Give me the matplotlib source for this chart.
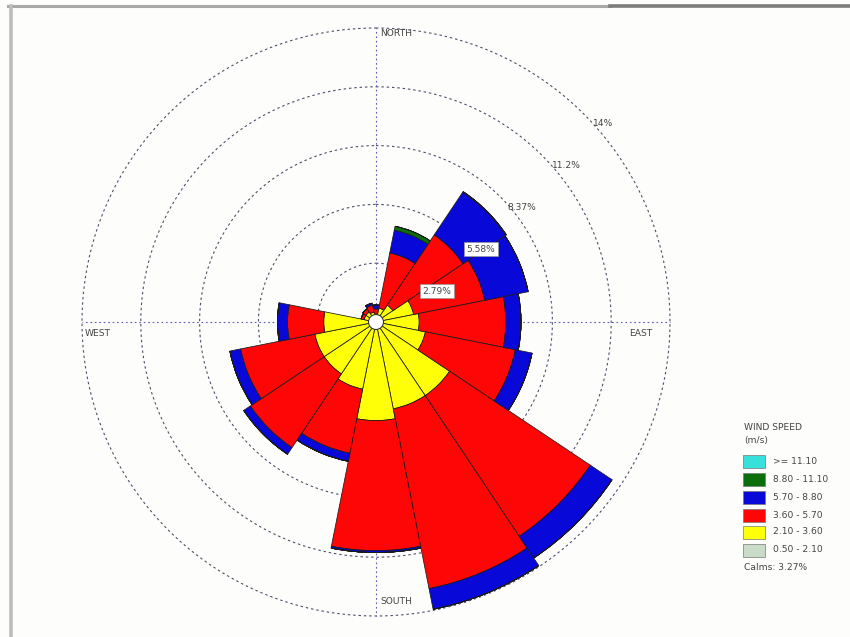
import numpy as np
import matplotlib
matplotlib.use("Agg")
import matplotlib.pyplot as plt
from matplotlib.patches import Rectangle, Circle
from matplotlib.lines import Line2D

# ---- data -------------------------------------------------------------
directions = ["N", "NNE", "NE", "ENE", "E", "ESE", "SE", "SSE",
              "S", "SSW", "SW", "WSW", "W", "WNW", "NW", "NNW"]
dir_deg = [0.0, 22.5, 45.0, 67.5, 90.0, 112.5, 135.0, 157.5,
           180.0, 202.5, 225.0, 247.5, 270.0, 292.5, 315.0, 337.5]

# frequency (%) of each wind speed class (m/s) per direction
freq_050_210 = [0.00, 0.00, 0.00, 0.00, 0.00, 0.00, 0.00, 0.00,
                0.00, 0.00, 0.00, 0.00, 0.00, 0.00, 0.00, 0.00]
freq_210_360 = [0.38, 0.67, 0.96, 1.82, 2.05, 2.39, 4.20, 4.20,
                4.68, 3.25, 2.96, 2.96, 2.48, 0.57, 0.57, 0.48]
freq_360_570 = [0.24, 2.67, 4.01, 3.44, 4.11, 4.35, 8.03, 8.70,
                6.17, 3.10, 4.21, 3.59, 1.72, 0.15, 0.19, 0.33]
freq_570_880 = [0.19, 1.10, 2.44, 2.10, 0.72, 0.81, 1.24, 1.00,
                0.09, 0.39, 0.38, 0.52, 0.48, 0.00, 0.00, 0.10]
freq_880_1110 = [0.00, 0.19, 0.03, 0.00, 0.00, 0.00, 0.00, 0.00,
                 0.00, 0.00, 0.00, 0.00, 0.00, 0.00, 0.00, 0.00]
freq_1110_up = [0.00, 0.00, 0.00, 0.00, 0.00, 0.00, 0.00, 0.00,
                0.00, 0.00, 0.00, 0.00, 0.00, 0.00, 0.00, 0.00]
calms_pct = 3.27

ring_values = [2.79, 5.58, 8.37, 11.16, 13.95]
ring_labels = ["2.79%", "5.58%", "8.37%", "11.2%", "14%"]

class_labels = [">= 11.10", "8.80 - 11.10", "5.70 - 8.80",
                "3.60 - 5.70", "2.10 - 3.60", "0.50 - 2.10"]
class_colors = ["#38e0dc", "#0a6e0a", "#0808d8",
                "#ff0606", "#ffff08", "#c8dcc8"]

# ---- figure -----------------------------------------------------------
W, H = 850, 637
fig = plt.figure(figsize=(W / 100, H / 100), dpi=100)
fig.patch.set_facecolor("#fdfdfb")


def fx(x):
    return x / W


def fy(y):
    return 1 - y / H


# plot frame
fig.add_artist(Line2D([fx(8), fx(610)], [fy(6), fy(6)], color="#a8a8a8", lw=2.2))
fig.add_artist(Line2D([fx(610), fx(850)], [fy(6), fy(6)], color="#7c7c7c", lw=2.6))
fig.add_artist(Line2D([fx(11), fx(11)], [fy(6), fy(637)], color="#bdbdbd", lw=2.6))

# polar axes: centre (376, 322) px, 13.95 % ring at 294 px
cx, cy = 376, 322
rmax = 14.9
Rpx = 294 * rmax / 13.95
ax = fig.add_axes([fx(cx - Rpx), fy(cy + Rpx), 2 * Rpx / W, 2 * Rpx / H],
                  projection="polar")
ax.set_theta_zero_location("N")
ax.set_theta_direction(-1)
ax.set_ylim(0, rmax)
ax.grid(False)
ax.set_xticks([])
ax.set_yticks([])
ax.spines["polar"].set_visible(False)
ax.patch.set_alpha(0)

theta = np.deg2rad(dir_deg)
width = np.deg2rad(22.5)

# rings and crosshair
t = np.linspace(0, 2 * np.pi, 600)
for rv in ring_values:
    ax.plot(t, np.full_like(t, rv), color="#4e4e6a", lw=0.8,
            ls=(0, (2.2, 2.6)), zorder=1)
for a in [0, 90, 180, 270]:
    ax.plot([np.deg2rad(a)] * 2, [0, ring_values[-1]], color="#5a5ab8",
            lw=0.8, ls=(0, (1.5, 2.5)), zorder=1)

# stacked bars, slowest class innermost
stack = [freq_050_210, freq_210_360, freq_360_570,
         freq_570_880, freq_880_1110, freq_1110_up]
stack_colors = class_colors[::-1]
bottom = np.zeros(16)
for vals, col in zip(stack, stack_colors):
    v = np.asarray(vals)
    ax.bar(theta, v, width=width, bottom=bottom, color=col,
           edgecolor="#1a1a1a", linewidth=0.55, zorder=3)
    bottom = bottom + v

# calms circle
ax.add_patch(Circle((0.5, 0.5), 7.5 / (2 * Rpx), transform=ax.transAxes,
                    facecolor="white", edgecolor="#333333", lw=0.8, zorder=6))

# ring labels
lab_font = dict(fontsize=6.6, color="#444444", family="DejaVu Sans")
ring_label_px = [(437, 291), (481, 249), (522, 207), (566, 165), (603, 123)]
for i, (lbl, (px, py)) in enumerate(zip(ring_labels, ring_label_px)):
    kw = dict(ha="center", va="center", **lab_font)
    if i < 2:
        kw["bbox"] = dict(boxstyle="square,pad=0.25", fc="white",
                          ec="#999999", lw=0.5)
    fig.text(fx(px), fy(py), lbl, zorder=10, **kw)

# compass labels
fig.text(fx(380), fy(34), "NORTH", ha="left", va="center", **lab_font)
fig.text(fx(380), fy(602), "SOUTH", ha="left", va="center", **lab_font)
fig.text(fx(85), fy(333), "WEST", ha="left", va="center", **lab_font)
fig.text(fx(629), fy(333), "EAST", ha="left", va="center", **lab_font)

# legend
fig.text(fx(744), fy(427), "WIND SPEED", ha="left", va="center", **lab_font)
fig.text(fx(744), fy(441), "(m/s)", ha="left", va="center", **lab_font)
row_y = [461, 479, 497, 515, 532, 550]
for lbl, col, yy in zip(class_labels, class_colors, row_y):
    fig.add_artist(Rectangle((fx(743), fy(yy + 6.5)), 22 / W, 13 / H,
                             transform=fig.transFigure, facecolor=col,
                             edgecolor="#777777", lw=0.5))
    fig.text(fx(773), fy(yy), lbl, ha="left", va="center", **lab_font)
fig.text(fx(744), fy(568), f"Calms: {calms_pct:.2f}%", ha="left",
         va="center", **lab_font)

fig.savefig("out.png", dpi=100, facecolor=fig.get_facecolor())
